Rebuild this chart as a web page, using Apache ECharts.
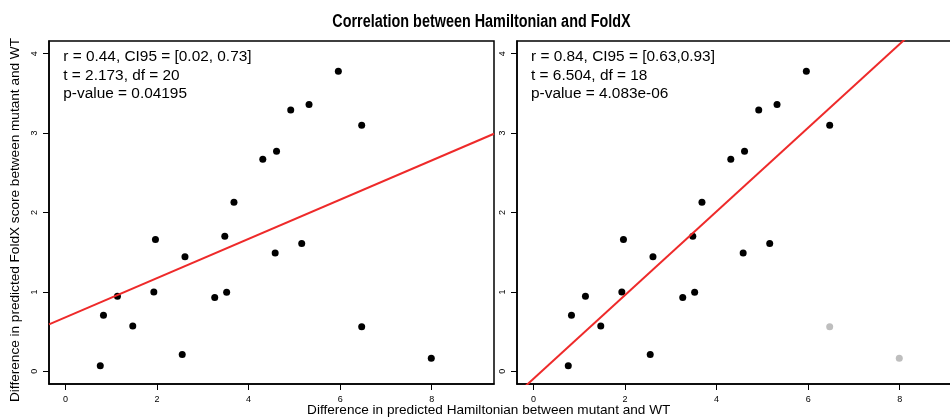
<!DOCTYPE html>
<html>
<head>
<meta charset="utf-8">
<script src="https://cdn.jsdelivr.net/npm/echarts@6/dist/echarts.min.js"></script>
<style>html,body{margin:0;padding:0;background:#fff}#c{width:950px;height:419px}</style>
</head>
<body>
<div id="c"></div>
<script>
// Data
const hamiltonian = [0.76, 0.83, 1.135, 1.47, 1.93, 1.965, 2.55, 2.61, 3.26, 3.48, 3.52, 3.68, 4.31, 4.58, 4.61, 4.92, 5.16, 5.32, 5.96, 6.47, 6.47, 7.99];
const foldx       = [0.071, 0.706, 0.945, 0.569, 1.00, 1.66, 0.213, 1.443, 0.928, 1.70, 0.995, 2.13, 2.67, 1.49, 2.77, 3.29, 1.61, 3.36, 3.78, 3.10, 0.56, 0.163];
const inRightFit  = [1,1,1,1,1,1,1,1,1,1,1,1,1,1,1,1,1,1,1,1,0,0];
const fitIntercept = [0.68, -0.094];
const fitSlope     = [0.247, 0.527];
const xTicks = [0, 2, 4, 6, 8];
const yTicks = [0, 1, 2, 3, 4];
const statsLeft  = ["r = 0.44, CI95 = [0.02, 0.73]", "t = 2.173, df = 20", "p-value = 0.04195"];
const statsRight = ["r = 0.84, CI95 = [0.63,0.93]", "t = 6.504, df = 18", "p-value = 4.083e-06"];
const titleText = "Correlation between Hamiltonian and FoldX";
const xLabel = "Difference in predicted Hamiltonian between mutant and WT";
const yLabel = "Difference in predicted FoldX score between mutant and WT";

const XMIN = -0.36, XMAX = 9.36, YMIN = -0.16, YMAX = 4.16;
const FONT = "'Liberation Sans', Arial, Helvetica, sans-serif";

function xAx(i) {
  return {
    type: 'value', gridIndex: i, min: XMIN, max: XMAX,
    splitLine: {show: false},
    axisLine: {show: true, onZero: false, lineStyle: {color: '#000', width: 1.5}},
    axisTick: {show: true, customValues: xTicks, length: 6, lineStyle: {color: '#000', width: 1}},
    axisLabel: {show: true, customValues: xTicks, fontSize: 9, color: '#000', margin: 11, fontFamily: FONT}
  };
}
function yAx(i) {
  return {
    type: 'value', gridIndex: i, min: YMIN, max: YMAX,
    splitLine: {show: false},
    axisLine: {show: true, onZero: false, lineStyle: {color: '#000', width: 1.5}},
    axisTick: {show: true, customValues: yTicks, length: 6, lineStyle: {color: '#000', width: 1}},
    axisLabel: {show: true, customValues: yTicks, rotate: 90, fontSize: 9, color: '#000', margin: 10, fontFamily: FONT}
  };
}

const leftPts = hamiltonian.map((x, i) => [x, foldx[i]]);
const rightIn = [], rightOut = [];
hamiltonian.forEach((x, i) => { (inRightFit[i] ? rightIn : rightOut).push([x, foldx[i]]); });
function fitLine(k) {
  return [[XMIN, fitIntercept[k] + fitSlope[k] * XMIN], [XMAX, fitIntercept[k] + fitSlope[k] * XMAX]];
}

function statTexts(lines, x0) {
  return lines.map((t, j) => ({
    type: 'text', x: x0, y: 57 + j * 18.3, silent: true,
    style: {text: t, font: "15.4px " + FONT, fill: '#000', textAlign: 'left', textVerticalAlign: 'middle'}
  }));
}

const gridBase = {top: 41, width: 445, height: 343, show: true, borderColor: '#000', borderWidth: 1.5,
  backgroundColor: 'transparent', containLabel: false, outerBoundsMode: 'none'};

const chart = echarts.init(document.getElementById('c'), null, {renderer: 'canvas'});
chart.setOption({
  animation: false,
  backgroundColor: '#fff',
  grid: [
    Object.assign({left: 49}, gridBase),
    Object.assign({left: 517}, gridBase)
  ],
  xAxis: [xAx(0), xAx(1)],
  yAxis: [yAx(0), yAx(1)],
  series: [
    {type: 'line', xAxisIndex: 0, yAxisIndex: 0, data: fitLine(0), showSymbol: false, clip: true, silent: true,
     lineStyle: {color: '#ee2a2a', width: 2}},
    {type: 'scatter', xAxisIndex: 0, yAxisIndex: 0, data: leftPts, symbolSize: 7, itemStyle: {color: '#000', opacity: 1}, silent: true},
    {type: 'line', xAxisIndex: 1, yAxisIndex: 1, data: fitLine(1), showSymbol: false, clip: true, silent: true,
     lineStyle: {color: '#ee2a2a', width: 2}},
    {type: 'scatter', xAxisIndex: 1, yAxisIndex: 1, data: rightIn, symbolSize: 7, itemStyle: {color: '#000', opacity: 1}, silent: true},
    {type: 'scatter', xAxisIndex: 1, yAxisIndex: 1, data: rightOut, symbolSize: 7, itemStyle: {color: '#bebebe', opacity: 1}, silent: true}
  ],
  graphic: [
    {type: 'text', x: 481.5, y: 22.5, scaleX: 0.8, silent: true,
     style: {text: titleText, font: "bold 18px " + FONT, fill: '#000', textAlign: 'center', textVerticalAlign: 'middle'}},
    {type: 'text', x: 488.7, y: 410.5, silent: true,
     style: {text: xLabel, font: "13.6px " + FONT, fill: '#000', textAlign: 'center', textVerticalAlign: 'middle'}},
    {type: 'text', x: 15, y: 220, rotation: Math.PI / 2, silent: true,
     style: {text: yLabel, font: "13.6px " + FONT, fill: '#000', textAlign: 'center', textVerticalAlign: 'middle'}}
  ].concat(statTexts(statsLeft, 63.3), statTexts(statsRight, 531))
});
</script>
</body>
</html>
